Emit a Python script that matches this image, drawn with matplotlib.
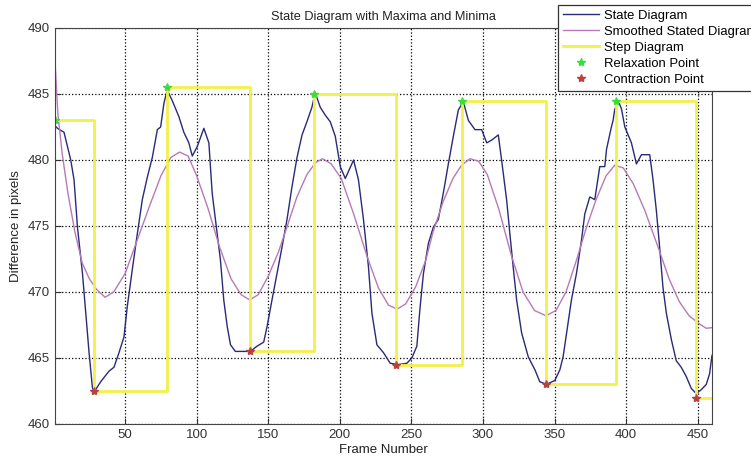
import numpy as np
import matplotlib
matplotlib.use('Agg')
import matplotlib.pyplot as plt

plt.rcParams['font.family'] = ['Liberation Sans', 'DejaVu Sans']

# ========================================
# data
# ========================================
state_frames = [1, 2.7, 7.3, 12, 14.3, 16.7, 20.2, 22.5, 24.8, 27.1, 28.2, 32.9, 38.7, 42.2,
                45.7, 49.2, 51.5, 55, 58.5, 62, 65.5, 69, 72.5, 74.8, 77.1, 79.4, 82.9, 87.5,
                91, 94.5, 96.9, 100.3, 105, 108.5, 110.8, 114.3, 116.6, 118.9, 121.3, 123.6,
                127, 137.5, 142.2, 146.8, 149.2, 152.6, 156.1, 159.6, 163.1, 166.6, 170.1,
                173.6, 177, 180.5, 182.8, 186.3, 189.8, 193.3, 196.8, 200.3, 203.8, 209.6,
                213, 216.5, 220, 222.4, 225.9, 230.5, 235.2, 240.9, 246.8, 250.3, 253.8,
                256.1, 258.4, 261.9, 265.3, 268.8, 272.3, 275.8, 279.3, 282.8, 286.3, 289.8,
                294.4, 299.1, 302.6, 306, 310.7, 313, 316.5, 318.8, 321.1, 323.5, 327, 331.6,
                336.3, 339.7, 344.4, 350.2, 353.7, 356, 358.4, 361.8, 365.3, 368.8, 371.1,
                374.6, 378.1, 381.6, 385.1, 386.3, 389.7, 390.9, 392, 394.4, 396.7, 399.1,
                403.7, 407.2, 410.7, 416.5, 418.8, 421.1, 423.4, 425.7, 428.1, 431.6, 435,
                438.5, 442, 445.5, 449, 452.5, 456, 458.3, 460]
state_values = [482.6, 482.4, 482.1, 480.0, 478.5, 474.9, 471.4, 468.4, 465.4, 462.8, 462.4,
                463.2, 464.0, 464.3, 465.4, 466.6, 468.9, 471.7, 474.4, 477.0, 478.7, 480.2,
                482.3, 482.5, 484.3, 485.3, 484.5, 483.3, 482.1, 481.3, 480.3, 481.0, 482.4,
                481.3, 477.5, 474.4, 472.4, 469.4, 467.4, 466.0, 465.5, 465.5, 465.9, 466.2,
                467.4, 469.4, 471.4, 473.4, 475.5, 478.0, 480.2, 481.9, 482.9, 484.0, 485.1,
                484.0, 483.4, 482.9, 481.8, 479.5, 478.6, 480.0, 478.5, 475.5, 471.9, 468.4,
                466.0, 465.4, 464.6, 464.5, 464.6, 465.0, 465.9, 468.9, 471.4, 473.7, 474.9,
                475.5, 477.5, 479.7, 481.8, 483.8, 484.4, 483.0, 482.3, 482.3, 481.3, 481.5,
                481.9, 480.0, 477.0, 474.4, 471.9, 469.4, 466.9, 465.1, 464.1, 463.2, 463.0,
                463.3, 464.1, 465.1, 466.9, 469.4, 471.4, 473.9, 475.9, 477.2, 477.0, 479.5,
                479.5, 480.8, 482.5, 483.0, 483.8, 484.5, 483.9, 482.5, 481.3, 479.7, 480.4,
                480.4, 478.5, 476.2, 473.4, 470.4, 468.4, 466.4, 464.8, 464.3, 463.6, 462.7,
                462.3, 462.6, 463.0, 463.8, 465.2]

smooth_frames = [1, 3, 6, 10, 15, 20, 25, 30, 36, 42, 50, 58, 67, 75, 82, 88, 94, 100, 108,
                 116, 124, 131, 137, 143, 150, 157, 163, 170, 177, 183, 188, 194, 201, 210,
                 219, 227, 234, 240, 246, 253, 260, 265, 272, 279, 285, 291, 297, 303, 311,
                 320, 328, 336, 344, 351, 358, 365, 372, 379, 386, 392, 398, 405, 413, 423,
                 430, 437, 444, 451, 456, 460]
smooth_values = [487.5, 483.5, 480.5, 477.5, 474.5, 472.2, 471.0, 470.2, 469.6, 470.0, 471.4,
                 473.8, 476.5, 478.8, 480.2, 480.6, 480.3, 478.8, 476.3, 473.4, 471.0, 469.8,
                 469.4, 469.8, 471.2, 473.0, 474.9, 477.2, 478.9, 479.8, 480.1, 479.7, 478.6,
                 475.8, 472.7, 470.3, 469.0, 468.7, 469.1, 470.4, 472.4, 474.5, 476.8, 478.6,
                 479.6, 480.1, 479.9, 478.9, 476.3, 472.7, 470.0, 468.6, 468.2, 468.6, 470.0,
                 472.3, 474.8, 477.0, 478.8, 479.6, 479.4, 478.2, 476.2, 473.2, 471.0, 469.3,
                 468.2, 467.6, 467.25, 467.3]

# relaxation (max) / contraction (min) points
relax_frames = [1, 79, 182, 285, 393]
relax_values = [483.0, 485.5, 485.0, 484.5, 484.5]
contract_frames = [28, 137, 239, 344, 449]
contract_values = [462.5, 465.5, 464.5, 463.0, 462.0]

step_frames = [1, 28, 79, 137, 182, 239, 285, 344, 393, 449, 460]
step_values = [483.0, 462.5, 485.5, 465.5, 485.0, 464.5, 484.5, 463.0, 484.5, 462.0, 462.0]

# ========================================
# figure
# ========================================
fig = plt.figure(figsize=(7.51, 4.58), dpi=100)
ax = fig.add_axes([55 / 751, 1 - 424 / 458, (712 - 55) / 751, (424 - 28) / 458])

l1, = ax.plot(state_frames, state_values, color='#2a2a78', lw=1.0, label='State Diagram')
l2, = ax.plot(smooth_frames, smooth_values, color='#b77ab7', lw=1.0, label='Smoothed Stated Diagram')
l3, = ax.plot(step_frames, step_values, color='#f2f04a', lw=2.0, drawstyle='steps-post',
              label='Step Diagram')
l4, = ax.plot(relax_frames, relax_values, ls='none', marker='*', ms=6, color='#3ddc3d',
              label='Relaxation Point')
l5, = ax.plot(contract_frames, contract_values, ls='none', marker='*', ms=6, color='#b84040',
              label='Contraction Point')

ax.set_xlim(1, 460)
ax.set_ylim(460, 490)
ax.set_xticks(np.arange(50, 451, 50))
ax.set_yticks(np.arange(460, 491, 5))
ax.tick_params(direction='in', length=4, labelsize=9.5, colors='#333333')
ax.grid(True, color='black', linestyle=':', linewidth=0.9)
for s in ax.spines.values():
    s.set_color('#444444')
    s.set_linewidth(0.8)

ax.set_title('State Diagram with Maxima and Minima', fontsize=9.2, pad=6, color='#222222')
ax.set_xlabel('Frame Number', fontsize=9.5, labelpad=2, color='#222222')
ax.set_ylabel('Difference in pixels', fontsize=9.5, labelpad=4, color='#222222')

# legend runs past the right edge, as in the source picture
leg = fig.legend(handles=[l1, l2, l3, l4, l5], loc='upper left',
                 bbox_to_anchor=(558 / 751, 1 - 5 / 458), fontsize=9.4, frameon=True,
                 fancybox=False, framealpha=1, edgecolor='#333333', borderpad=0.35,
                 labelspacing=0.3, handlelength=2.8, handletextpad=0.4, borderaxespad=0)
leg.get_frame().set_linewidth(0.9)

fig.savefig('out.png', dpi=100)
